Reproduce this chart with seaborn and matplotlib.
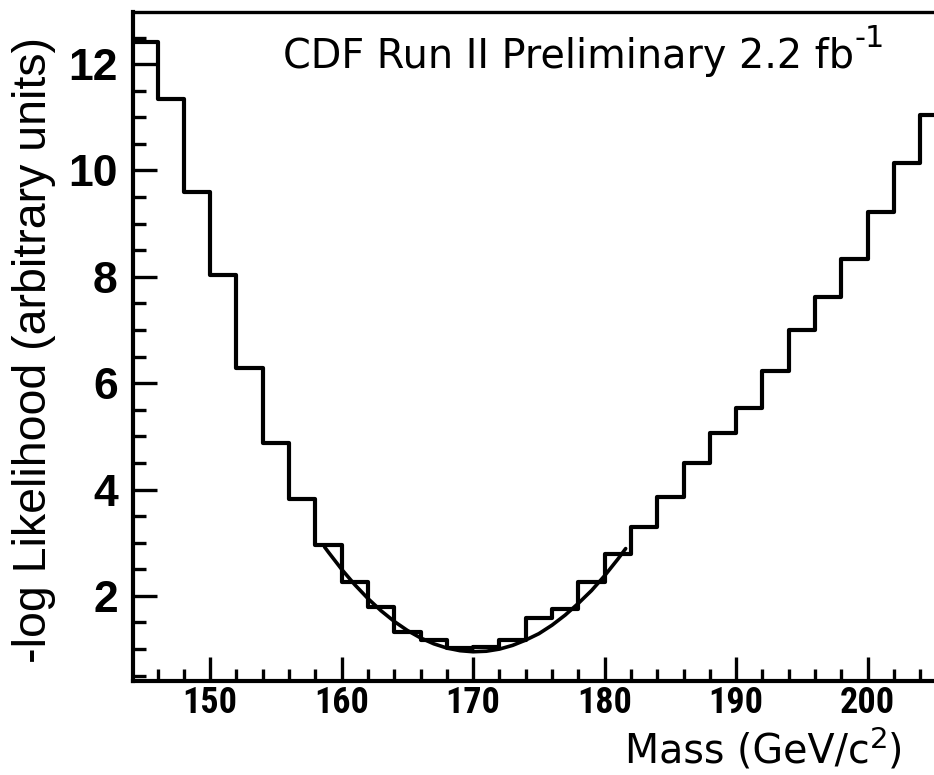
import matplotlib
matplotlib.use("Agg")
import matplotlib.pyplot as plt
from matplotlib.ticker import MultipleLocator
import pandas as pd
import seaborn as sns

# ---- data ----
mass_centers = [145, 147, 149, 151, 153, 155, 157, 159, 161, 163, 165, 167, 169, 171, 173,
                175, 177, 179, 181, 183, 185, 187, 189, 191, 193, 195, 197, 199, 201, 203, 205]
neg_log_l = [12.41, 11.34, 9.59, 8.03, 6.29, 4.88, 3.82, 2.96, 2.26, 1.79, 1.32, 1.17, 1.02, 1.04, 1.17,
             1.59, 1.76, 2.26, 2.79, 3.30, 3.86, 4.50, 5.06, 5.53, 6.23, 7.00, 7.62, 8.33, 9.22, 10.14, 11.04]

fit_mass = [158.7, 159, 160, 161, 162, 163, 164, 165, 166, 167, 168, 169, 170, 171, 172,
            173, 174, 175, 176, 177, 178, 179, 180, 181, 181.6]
fit_vals = [2.92, 2.82, 2.50, 2.21, 1.95, 1.72, 1.52, 1.35, 1.21, 1.10, 1.02, 0.97, 0.95, 0.96, 1.00,
            1.07, 1.17, 1.29, 1.45, 1.64, 1.86, 2.10, 2.38, 2.69, 2.89]

x_major = [150, 160, 170, 180, 190, 200]
y_major = [2, 4, 6, 8, 10, 12]

title_main = "CDF Run II Preliminary 2.2 fb"
title_sup = "-1"
xlabel_main = "Mass (GeV/c"
xlabel_sup = "2"
xlabel_close = ")"
ylabel_text = "-log Likelihood (arbitrary units)"

hist_df = pd.DataFrame({"mass": mass_centers, "nll": neg_log_l})
fit_df = pd.DataFrame({"mass": fit_mass, "nll": fit_vals})

sns.set_theme(style="white")
plt.rcParams["font.family"] = ["DejaVu Sans"]
plt.rcParams["text.color"] = "black"
plt.rcParams["xtick.color"] = "black"
plt.rcParams["ytick.color"] = "black"

fig = plt.figure(figsize=(9.34, 7.75), dpi=100)
ax = fig.add_axes([0.1424, 0.1213, 0.8576, 0.8632])

sns.histplot(data=hist_df, x="mass", weights="nll", binwidth=2, binrange=(144, 206),
             element="step", fill=False, color="black", linewidth=3.0, ax=ax)
sns.lineplot(data=fit_df, x="mass", y="nll", color="black", linewidth=2.6, ax=ax)

ax.set_xlim(144.13, 205.05)
ax.set_ylim(0.40, 12.98)
ax.set_xlabel("")
ax.set_ylabel("")

for side in ["left", "bottom"]:
    ax.spines[side].set_linewidth(3.0)
    ax.spines[side].set_color("black")
ax.spines["top"].set_linewidth(2.4)
ax.spines["top"].set_color("black")
ax.spines["right"].set_visible(False)

ax.set_xticks(x_major)
ax.set_yticks(y_major)
ax.xaxis.set_minor_locator(MultipleLocator(2))
ax.yaxis.set_minor_locator(MultipleLocator(0.5))
ax.tick_params(axis="both", which="both", bottom=True, left=True, top=False, right=False)
ax.tick_params(axis="both", which="major", direction="in", length=17, width=2.4, color="black")
ax.tick_params(axis="both", which="minor", direction="in", length=9, width=2.4, color="black")
ax.tick_params(axis="x", which="major", pad=3)
ax.tick_params(axis="y", which="major", pad=11)

ax.set_xticklabels([str(v) for v in x_major],
                   fontfamily=["Liberation Sans Narrow", "Roboto Condensed", "Liberation Sans"],
                   fontweight="bold", fontsize=26, color="black")
ax.set_yticklabels([str(v) for v in y_major], fontfamily="Liberation Sans", fontweight="bold",
                   fontsize=32, color="black")

renderer = fig.canvas.get_renderer()
W, H = 934.0, 775.0

# title with large raised "-1"
t_main = fig.text(283 / W, 1 - 68 / H, title_main, fontsize=28.6, color="black",
                  ha="left", va="baseline", family="DejaVu Sans")
bb = t_main.get_window_extent(renderer)
fig.text((bb.x1 + 0) / W, 1 - 47 / H, title_sup, fontsize=22, color="black",
         ha="left", va="baseline", family="DejaVu Sans")

# x label with large raised "2"
x_m = fig.text(625 / W, 1 - 763 / H, xlabel_main, fontsize=28.5, color="black",
               ha="left", va="baseline", family="DejaVu Sans")
bb = x_m.get_window_extent(renderer)
s2 = fig.text((bb.x1 + 0) / W, 1 - 748 / H, xlabel_sup, fontsize=21, color="black",
              ha="left", va="baseline", family="DejaVu Sans")
bb2 = s2.get_window_extent(renderer)
fig.text((bb2.x1 + 0) / W, 1 - 763 / H, xlabel_close, fontsize=28.5, color="black",
         ha="left", va="baseline", family="DejaVu Sans")

fig.text(0.036, 0.548, ylabel_text, fontsize=33.5, color="black", rotation=90,
         ha="center", va="center", family="Liberation Sans")

fig.savefig("out.png", dpi=100, facecolor="white")
